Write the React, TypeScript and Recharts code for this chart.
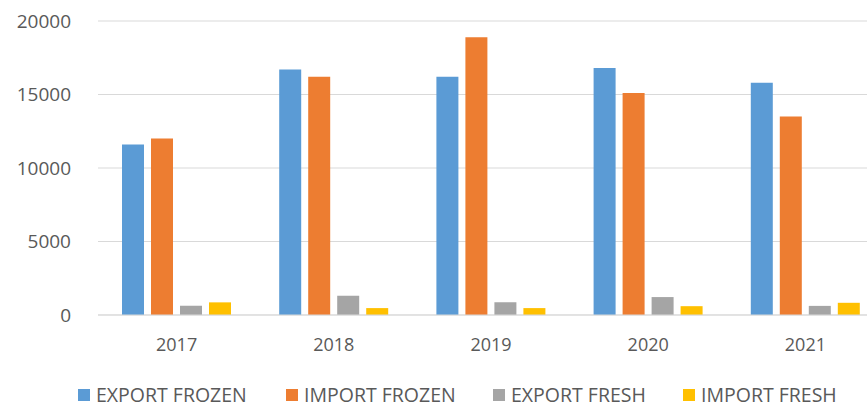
import { BarChart, Bar, XAxis, YAxis, CartesianGrid, Legend } from 'recharts';

const years = ['2017', '2018', '2019', '2020', '2021'];
const exportFrozen = [11600, 16700, 16200, 16800, 15800];
const importFrozen = [12000, 16200, 18900, 15100, 13500];
const exportFresh = [630, 1310, 870, 1220, 620];
const importFresh = [860, 470, 470, 600, 830];
const yTicks = [0, 5000, 10000, 15000, 20000];

const series = [
  { key: 'exportFrozen', name: 'EXPORT FROZEN', color: '#5B9BD5' },
  { key: 'importFrozen', name: 'IMPORT FROZEN', color: '#ED7D31' },
  { key: 'exportFresh', name: 'EXPORT FRESH', color: '#A5A5A5' },
  { key: 'importFresh', name: 'IMPORT FRESH', color: '#FFC000' },
];

const data = years.map((year, i) => ({
  year,
  exportFrozen: exportFrozen[i],
  importFrozen: importFrozen[i],
  exportFresh: exportFresh[i],
  importFresh: importFresh[i],
}));

const FONT = '"Open Sans", "Liberation Sans", sans-serif';
// left edge of each legend swatch, px
const legendLeft = [78, 286, 493, 683];

const LegendContent = () => (
  <div style={{ position: 'relative', height: 37, fontFamily: FONT, fontSize: 19.5, lineHeight: '20px', color: '#595959' }}>
    {series.map((s, i) => (
      <div
        key={s.key}
        style={{ position: 'absolute', left: legendLeft[i], top: 15, display: 'flex', alignItems: 'center', whiteSpace: 'nowrap' }}
      >
        <span style={{ width: 12, height: 12, background: s.color, marginRight: 6, display: 'inline-block' }} />
        <span>{s.name}</span>
      </div>
    ))}
  </div>
);

export default function App() {
  return (
    <div style={{ position: 'absolute', left: 0, top: 0, width: 867, height: 407, overflow: 'hidden', background: '#fff' }}>
      <BarChart
        width={892}
        height={407}
        data={data}
        margin={{ top: 21, right: 8, left: 0, bottom: 0 }}
        barSize={22}
        barGap={7}
      >
        <CartesianGrid vertical={false} stroke="#D9D9D9" />
        <XAxis
          dataKey="year"
          height={55}
          axisLine={{ stroke: '#D9D9D9' }}
          tickLine={false}
          tickMargin={17}
          tick={{ fill: '#595959', fontSize: 18, fontFamily: FONT }}
        />
        <YAxis
          width={98}
          domain={[0, 20000]}
          ticks={yTicks}
          axisLine={false}
          tickLine={false}
          tickMargin={21}
          tick={{ fill: '#595959', fontSize: 19, fontFamily: FONT }}
        />
        <Legend verticalAlign="bottom" height={37} wrapperStyle={{ left: 0, width: 867 }} content={<LegendContent />} />
        {series.map((s) => (
          <Bar key={s.key} dataKey={s.key} name={s.name} fill={s.color} isAnimationActive={false} />
        ))}
      </BarChart>
    </div>
  );
}
